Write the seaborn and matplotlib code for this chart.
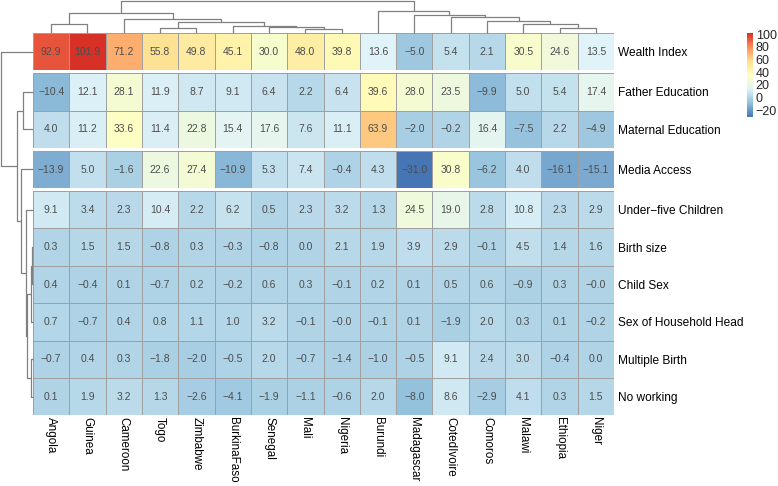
import numpy as np
import pandas as pd
import matplotlib
matplotlib.use("Agg")
import matplotlib.pyplot as plt
import seaborn as sns
from matplotlib.colors import LinearSegmentedColormap

# ---------------- data ----------------
countries = ["Angola", "Guinea", "Cameroon", "Togo", "Zimbabwe", "BurkinaFaso",
             "Senegal", "Mali", "Nigeria", "Burundi", "Madagascar", "CotedIvoire",
             "Comoros", "Malawi", "Ethiopia", "Niger"]
features = ["Wealth Index", "Father Education", "Maternal Education", "Media Access",
            "Under\u2212five Children", "Birth size", "Child Sex",
            "Sex of Household Head", "Multiple Birth", "No working"]

wealth_index = [92.9, 101.9, 71.2, 55.8, 49.8, 45.1, 30.0, 48.0, 39.8, 13.6, -5.0, 5.4, 2.1, 30.5, 24.6, 13.5]
father_edu = [-10.4, 12.1, 28.1, 11.9, 8.7, 9.1, 6.4, 2.2, 6.4, 39.6, 28.0, 23.5, -9.9, 5.0, 5.4, 17.4]
maternal_edu = [4.0, 11.2, 33.6, 11.4, 22.8, 15.4, 17.6, 7.6, 11.1, 63.9, -2.0, -0.2, 16.4, -7.5, 2.2, -4.9]
media_access = [-13.9, 5.0, -1.6, 22.6, 27.4, -10.9, 5.3, 7.4, -0.4, 4.3, -31.0, 30.8, -6.2, 4.0, -16.1, -15.1]
under_five = [9.1, 3.4, 2.3, 10.4, 2.2, 6.2, 0.5, 2.3, 3.2, 1.3, 24.5, 19.0, 2.8, 10.8, 2.3, 2.9]
birth_size = [0.3, 1.5, 1.5, -0.8, 0.3, -0.3, -0.8, 0.0, 2.1, 1.9, 3.9, 2.9, -0.1, 4.5, 1.4, 1.6]
child_sex = [0.4, -0.4, 0.1, -0.7, 0.2, -0.2, 0.6, 0.3, -0.1, 0.2, 0.1, 0.5, 0.6, -0.9, 0.3, -0.0]
sex_hh_head = [0.7, -0.7, 0.4, 0.8, 1.1, 1.0, 3.2, -0.1, -0.0, -0.1, 0.1, -1.9, 2.0, 0.3, 0.1, -0.2]
multiple_birth = [-0.7, 0.4, 0.3, -1.8, -2.0, -0.5, 2.0, -0.7, -1.4, -1.0, -0.5, 9.1, 2.4, 3.0, -0.4, 0.0]
no_working = [0.1, 1.9, 3.2, 1.3, -2.6, -4.1, -1.9, -1.1, -0.6, 2.0, -8.0, 8.6, -2.9, 4.1, 0.3, 1.5]

row_cluster_sizes = [1, 2, 1, 6]
colorbar_ticks = [-20, 0, 20, 40, 60, 80, 100]

# dendrogram merges: (left id, right id, height); ids >= n are earlier merges
col_merges = [(7, 8, 3.5), (6, 16, 5.5), (5, 17, 6.5), (3, 4, 5.0), (19, 18, 11.0),
              (2, 20, 14.0), (0, 1, 9.0), (22, 21, 19.5), (14, 15, 5.0), (13, 24, 9.0),
              (12, 25, 12.0), (11, 26, 16.0), (10, 27, 18.0), (9, 28, 22.0), (23, 29, 32.0)]
row_merges = [(1, 2, 10.0), (5, 6, 1.5), (11, 7, 2.0), (8, 9, 2.5), (12, 13, 6.0),
              (4, 14, 7.0), (3, 15, 12.0), (10, 16, 16.0), (0, 17, 32.0)]

values = np.array([wealth_index, father_edu, maternal_edu, media_access, under_five,
                   birth_size, child_sex, sex_hh_head, multiple_birth, no_working])
df = pd.DataFrame(values, index=features, columns=countries)
annot = np.vectorize(lambda v: f"{v:.1f}".replace("-", "\u2212"))(values)

# ---------------- style ----------------
sns.set_theme(style="white")
plt.rcParams["font.family"] = ["Liberation Sans", "DejaVu Sans"]

cmap = LinearSegmentedColormap.from_list(
    "rdylbu_r", ["#4575B4", "#91BFDB", "#E0F3F8", "#FFFFBF", "#FEE090", "#FC8D59", "#D73027"])
vmin, vmax = values.min(), values.max()

W, H = 778, 486
fig = plt.figure(figsize=(W / 100, H / 100), dpi=100)


def ax_px(x0, y0, x1, y1):
    return fig.add_axes([x0 / W, 1 - y1 / H, (x1 - x0) / W, (y1 - y0) / H])


left, right, top = 33, 614, 33
row_h, gap = 37.4, 2.8
cax = ax_px(747, 33, 753, 117)

row_centers = []
y = top
start = 0
axes = []
for gi, n in enumerate(row_cluster_sizes):
    ax = ax_px(left, y, right, y + n * row_h)
    block = df.iloc[start:start + n]
    last = gi == len(row_cluster_sizes) - 1
    sns.heatmap(block, ax=ax, cmap=cmap, vmin=vmin, vmax=vmax,
                annot=annot[start:start + n], fmt="",
                annot_kws=dict(size=7.5, color="#4d4d4d"),
                linewidths=0.5, linecolor="#a0a0a0",
                cbar=(gi == 0), cbar_ax=cax if gi == 0 else None,
                xticklabels=last, yticklabels=True)
    ax.yaxis.tick_right()
    ax.set_ylabel("")
    ax.set_xlabel("")
    ax.tick_params(axis="y", length=0, pad=3, labelsize=8.6, labelcolor="black")
    for t in ax.get_yticklabels():
        t.set_rotation(0)
    if last:
        ax.tick_params(axis="x", length=0, pad=1.5, labelsize=8.4, labelcolor="black")
        for t in ax.get_xticklabels():
            t.set_rotation(-90)
            t.set_va("top")
            t.set_ha("center")
    for i in range(n):
        row_centers.append(y + (i + 0.5) * row_h)
    axes.append(ax)
    y += n * row_h + gap
    start += n
bottom = y - gap

cb = axes[0].collections[0].colorbar
cb.set_ticks(colorbar_ticks)
cb.ax.tick_params(length=0, labelsize=9, pad=2)
cb.outline.set_visible(False)


def draw_dendro(ax, merges, leaf_pos, orient):
    n = len(leaf_pos)
    pos = {i: leaf_pos[i] for i in range(n)}
    hgt = {i: 0.0 for i in range(n)}
    for k, (a, b, h) in enumerate(merges):
        pa, pb, ha, hb = pos[a], pos[b], hgt[a], hgt[b]
        xs = [pa, pa, pb, pb]
        ys = [ha, h, h, hb]
        if orient == "top":
            ax.plot(xs, ys, color="#808080", lw=0.9, clip_on=False, solid_capstyle="butt")
        else:
            ax.plot(ys, xs, color="#808080", lw=0.9, clip_on=False, solid_capstyle="butt")
        pos[n + k] = (pa + pb) / 2
        hgt[n + k] = h


# column dendrogram
cdax = ax_px(left, 1, right, top)
draw_dendro(cdax, col_merges, [i + 0.5 for i in range(len(countries))], "top")
cdax.set_xlim(0, len(countries))
cdax.set_ylim(0, 32)
cdax.axis("off")

# row dendrogram (pixel coordinates, top-down)
rdax = ax_px(1, top, left, bottom)
draw_dendro(rdax, row_merges, row_centers, "left")
rdax.set_xlim(32, 0)
rdax.set_ylim(bottom, top)
rdax.axis("off")

fig.savefig("out.png", dpi=100)
